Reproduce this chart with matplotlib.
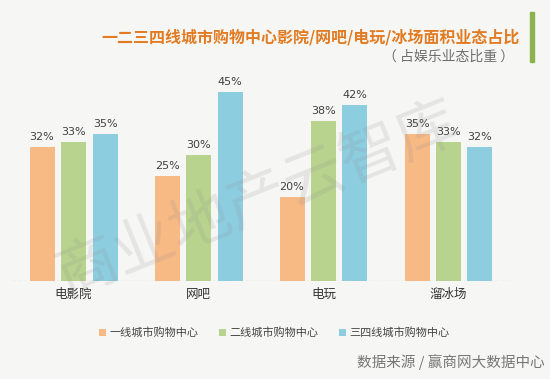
import matplotlib
matplotlib.use("Agg")
import matplotlib.pyplot as plt
import numpy as np

plt.rcParams['font.family'] = ['Noto Sans CJK SC', 'DejaVu Sans']

categories = ['电影院', '网吧', '电玩', '溜冰场']
series_names = ['一线城市购物中心', '二线城市购物中心', '三四线城市购物中心']
tier1 = [32, 25, 20, 35]
tier2 = [33, 30, 38, 33]
tier34 = [35, 45, 42, 32]

colors = ['#F8BA85', '#B8D38E', '#8DCDE0']
bg = '#F6F6F4'

fig = plt.figure(figsize=(5.5, 3.79), dpi=100, facecolor=bg)
ax = fig.add_axes([12 / 550, 98 / 379, 498 / 550, 201.6 / 379])
ax.set_facecolor('none')

x = np.arange(len(categories))
offset = 0.252
width = 0.2
for i, (vals, c) in enumerate(zip([tier1, tier2, tier34], colors)):
    pos = x + (i - 1) * offset
    bars = ax.bar(pos, vals, width, color=c, label=series_names[i], zorder=2)
    for b, v in zip(bars, vals):
        ax.text(b.get_x() + b.get_width() / 2, v + 1.2, f'{v}%', ha='center',
                va='bottom', fontsize=8, color='#404040', family='DejaVu Sans')

ax.set_xlim(-0.492, 3.492)
ax.set_ylim(0, 48)
ax.axhline(0, color='#999999', lw=0.8, ls=(0, (3, 2)), zorder=3)
for s in ax.spines.values():
    s.set_visible(False)
ax.set_yticks([])
ax.set_xticks(x)
ax.set_xticklabels(categories, fontsize=9, color='#333333')
ax.tick_params(axis='x', length=0, pad=5)

# watermark
fig.text(0.47, 0.47, '商业地产云智库', fontsize=44, color='#888888', alpha=0.16,
         rotation=22, ha='center', va='center', zorder=0)

# title block
fig.text(520 / 550, 1 - 37 / 379, '一二三四线城市购物中心影院/网吧/电玩/冰场面积业态占比',
         ha='right', va='center', fontsize=11.5, fontweight='bold', color='#E27B22')
fig.text(514 / 550, 1 - 57 / 379, '（ 占娱乐业态比重 ）', ha='right', va='center',
         fontsize=10, color='#6E6E6E')
fig.patches.append(plt.Rectangle((530 / 550, 1 - 62 / 379), 4 / 550, 50 / 379,
                                 transform=fig.transFigure, color='#8BB24F'))

# legend
ax.legend(loc='upper center', bbox_to_anchor=(0.527, -0.18), ncol=3, frameon=False,
          fontsize=8, handlelength=0.6, handleheight=0.6, handletextpad=0.3,
          columnspacing=1.9, labelcolor='#444444')

fig.text(545 / 550, 1 - 362 / 379, '数据来源 / 赢商网大数据中心', ha='right',
         va='center', fontsize=10.5, color='#777777')

fig.savefig('out.png', dpi=100, facecolor=bg)
